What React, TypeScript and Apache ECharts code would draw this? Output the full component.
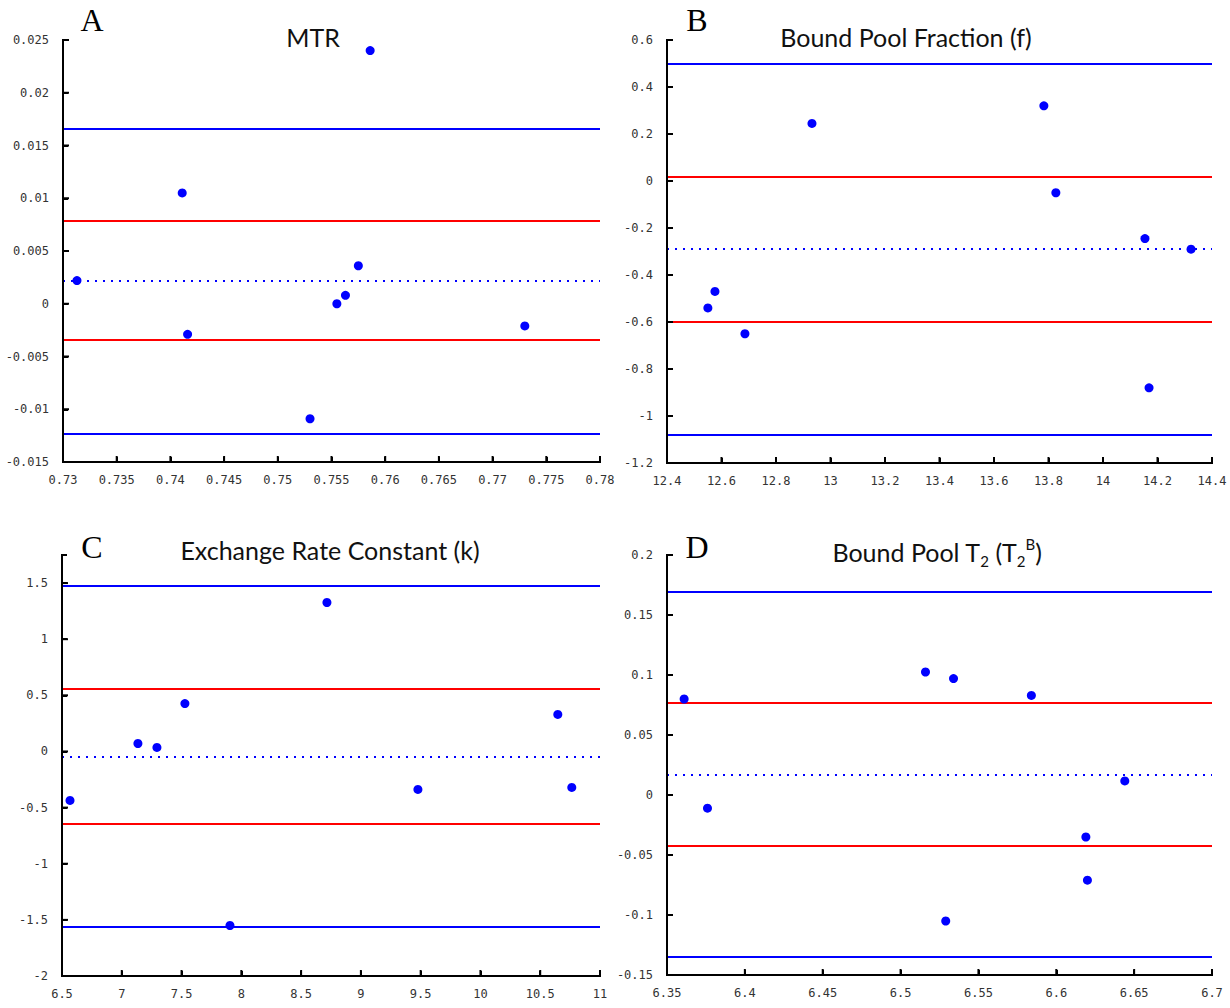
import React, { useEffect, useRef } from "react";
import * as echarts from "echarts";

// ---- Panel A: MTR ----
const mtrX = [0.7313, 0.7411, 0.7416, 0.753, 0.7555, 0.7563, 0.7575, 0.7586, 0.773];
const mtrY = [0.0022, 0.0105, -0.0029, -0.0109, 0.0, 0.0008, 0.0036, 0.024, -0.0021];
const mtrLimits = [0.0166, 0.0079, -0.0034, -0.0123];
const mtrMean = 0.0022;

// ---- Panel B: Bound Pool Fraction (f) ----
const fX = [12.55, 12.576, 12.686, 12.932, 13.783, 13.827, 14.154, 14.169, 14.323];
const fY = [-0.54, -0.47, -0.65, 0.245, 0.32, -0.05, -0.245, -0.88, -0.29];
const fLimits = [0.5, 0.02, -0.6, -1.08];
const fMean = -0.29;

// ---- Panel C: Exchange Rate Constant (k) ----
const kX = [6.567, 7.135, 7.294, 7.528, 7.905, 8.716, 9.477, 10.647, 10.764];
const kY = [-0.436, 0.071, 0.036, 0.427, -1.55, 1.327, -0.338, 0.33, -0.32];
const kLimits = [1.473, 0.556, -0.646, -1.563];
const kMean = -0.045;

// ---- Panel D: Bound Pool T2 ----
const tX = [6.361, 6.376, 6.516, 6.529, 6.534, 6.584, 6.619, 6.62, 6.644];
const tY = [0.08, -0.011, 0.1025, -0.105, 0.097, 0.083, -0.035, -0.071, 0.0117];
const tLimits = [0.169, 0.077, -0.0425, -0.135];
const tMean = 0.017;

// axis ranges: [min, max, interval]
const xRangeA = [0.73, 0.78, 0.005];
const yRangeA = [-0.015, 0.025, 0.005];
const xRangeB = [12.4, 14.4, 0.2];
const yRangeB = [-1.2, 0.6, 0.2];
const xRangeC = [6.5, 11, 0.5];
const yRangeC = [-2, 1.75, 0.5];
const xRangeD = [6.35, 6.7, 0.05];
const yRangeD = [-0.15, 0.2, 0.05];

const xRanges = [xRangeA, xRangeB, xRangeC, xRangeD];
const yRanges = [yRangeA, yRangeB, yRangeC, yRangeD];

const grids = [
  { left: 63, top: 40, width: 537, height: 422 },
  { left: 667, top: 40, width: 545, height: 423 },
  { left: 62, top: 555, width: 538, height: 421 },
  { left: 667, top: 555, width: 545, height: 420 },
];

const labelFont = {
  fontFamily: "DejaVu Sans Mono",
  fontSize: 12,
  color: "#333",
};

function fmt(r: number[]) {
  return (v: number) => {
    const k = (v - r[0]) / r[2];
    if (Math.abs(k - Math.round(k)) > 1e-6) return "";
    return String(+v.toFixed(4));
  };
}

function axis(i: number, r: number[], isY: boolean) {
  return {
    type: "value",
    gridIndex: i,
    min: r[0],
    max: r[1],
    interval: r[2],
    splitLine: { show: false },
    axisLine: { show: true, onZero: false, lineStyle: { color: "#000", width: 2 } },
    axisTick: { show: true, inside: true, length: 5, lineStyle: { color: "#000", width: 2 } },
    axisLabel: { ...labelFont, margin: isY ? 14 : 12, formatter: fmt(r) },
  };
}

function panelSeries(i: number, xs: number[], ys: number[], limits: number[], mean: number) {
  const outer = "#0000FF";
  const inner = "#FF0000";
  return {
    type: "scatter",
    xAxisIndex: i,
    yAxisIndex: i,
    symbolSize: 9,
    itemStyle: { color: "#0000FF", opacity: 1 },
    data: xs.map((x, j) => [x, ys[j]]),
    markLine: {
      silent: true,
      symbol: ["none", "none"],
      label: { show: false },
      precision: 6,
      z: 1,
      data: [
        { yAxis: limits[0], lineStyle: { color: outer, width: 2, type: "solid" } },
        { yAxis: limits[1], lineStyle: { color: inner, width: 2, type: "solid" } },
        { yAxis: mean, lineStyle: { color: outer, width: 2, type: [2, 6] } },
        { yAxis: limits[2], lineStyle: { color: inner, width: 2, type: "solid" } },
        { yAxis: limits[3], lineStyle: { color: outer, width: 2, type: "solid" } },
      ],
    },
  };
}

const titleStyle = { fontFamily: "Lato", fontSize: 25, fill: "#111" };
const letterStyle = { fontFamily: "Liberation Serif", fontSize: 32, fill: "#000" };

const textGraphics = [
  { type: "text", x: 92, y: 20, style: { ...letterStyle, text: "A", align: "center", verticalAlign: "middle" } },
  { type: "text", x: 697, y: 20, style: { ...letterStyle, text: "B", align: "center", verticalAlign: "middle" } },
  { type: "text", x: 92, y: 547, style: { ...letterStyle, text: "C", align: "center", verticalAlign: "middle" } },
  { type: "text", x: 697, y: 547, style: { ...letterStyle, text: "D", align: "center", verticalAlign: "middle" } },
  { type: "text", x: 313, y: 37, style: { ...titleStyle, text: "MTR", align: "center", verticalAlign: "middle" } },
  { type: "text", x: 906, y: 37, style: { ...titleStyle, text: "Bound Pool Fraction (f)", align: "center", verticalAlign: "middle" } },
  { type: "text", x: 330, y: 550, style: { ...titleStyle, text: "Exchange Rate Constant (k)", align: "center", verticalAlign: "middle" } },
  {
    type: "text",
    x: 937,
    y: 552,
    style: {
      ...titleStyle,
      text: "{m|Bound Pool T}{sub|2}{m| (T}{sub|2}{sup|B}{m|)}",
      align: "center",
      verticalAlign: "middle",
      rich: {
        m: { fontFamily: "Lato", fontSize: 25, lineHeight: 32, fill: "#111" },
        sub: { fontFamily: "Lato", fontSize: 15, lineHeight: 15, verticalAlign: "bottom", fill: "#111" },
        sup: { fontFamily: "Lato", fontSize: 15, lineHeight: 15, verticalAlign: "top", fill: "#111" },
      },
    },
  },
];

export default function App() {
  const ref = useRef<HTMLDivElement>(null);
  useEffect(() => {
    document.body.style.margin = "0";
    if (!ref.current) return;
    const chart = echarts.init(ref.current, undefined, { renderer: "svg" });
    chart.setOption({
      animation: false,
      backgroundColor: "#fff",
      grid: grids,
      xAxis: xRanges.map((r, i) => axis(i, r, false)),
      yAxis: yRanges.map((r, i) => axis(i, r, true)),
      series: [
        panelSeries(0, mtrX, mtrY, mtrLimits, mtrMean),
        panelSeries(1, fX, fY, fLimits, fMean),
        panelSeries(2, kX, kY, kLimits, kMean),
        panelSeries(3, tX, tY, tLimits, tMean),
      ],
    });

    // axis frame and ticks as filled rects, positioned through the chart's scales
    const axisGraphics: any[] = [];
    const fill = { fill: "#000" };
    const px = (i: number, x: number, y: number) => {
      const p = chart.convertToPixel({ gridIndex: i }, [x, y]) as number[];
      if (p && isFinite(p[0]) && isFinite(p[1])) return p;
      const g = grids[i];
      const xr = xRanges[i];
      const yr = yRanges[i];
      return [
        g.left + ((x - xr[0]) / (xr[1] - xr[0])) * g.width,
        g.top + g.height - ((y - yr[0]) / (yr[1] - yr[0])) * g.height,
      ];
    };
    xRanges.forEach((xr, i) => {
      const yr = yRanges[i];
      const p0 = px(i, xr[0], yr[0]);
      const p1 = px(i, xr[1], yr[1]);
      axisGraphics.push({ type: "rect", z: 50, shape: { x: p0[0] - 1, y: p0[1] - 1, width: p1[0] - p0[0] + 2, height: 2 }, style: fill });
      axisGraphics.push({ type: "rect", z: 50, shape: { x: p0[0] - 1, y: p1[1] - 1, width: 2, height: p0[1] - p1[1] + 2 }, style: fill });
      const nx = Math.round((xr[1] - xr[0]) / xr[2]);
      for (let k = 1; k <= nx; k++) {
        const tx = px(i, xr[0] + k * xr[2], yr[0])[0];
        axisGraphics.push({ type: "rect", z: 50, shape: { x: tx - 1, y: p0[1] - 6, width: 2, height: 6 }, style: fill });
      }
      const ny = Math.floor((yr[1] - yr[0]) / yr[2] + 1e-6);
      for (let k = 1; k <= ny; k++) {
        const ty = px(i, xr[0], yr[0] + k * yr[2])[1];
        axisGraphics.push({ type: "rect", z: 50, shape: { x: p0[0], y: ty - 1, width: 6, height: 2 }, style: fill });
      }
    });

    chart.setOption({ graphic: [...textGraphics, ...axisGraphics] });
    return () => chart.dispose();
  }, []);
  return <div ref={ref} style={{ width: 1230, height: 1008 }} />;
}
